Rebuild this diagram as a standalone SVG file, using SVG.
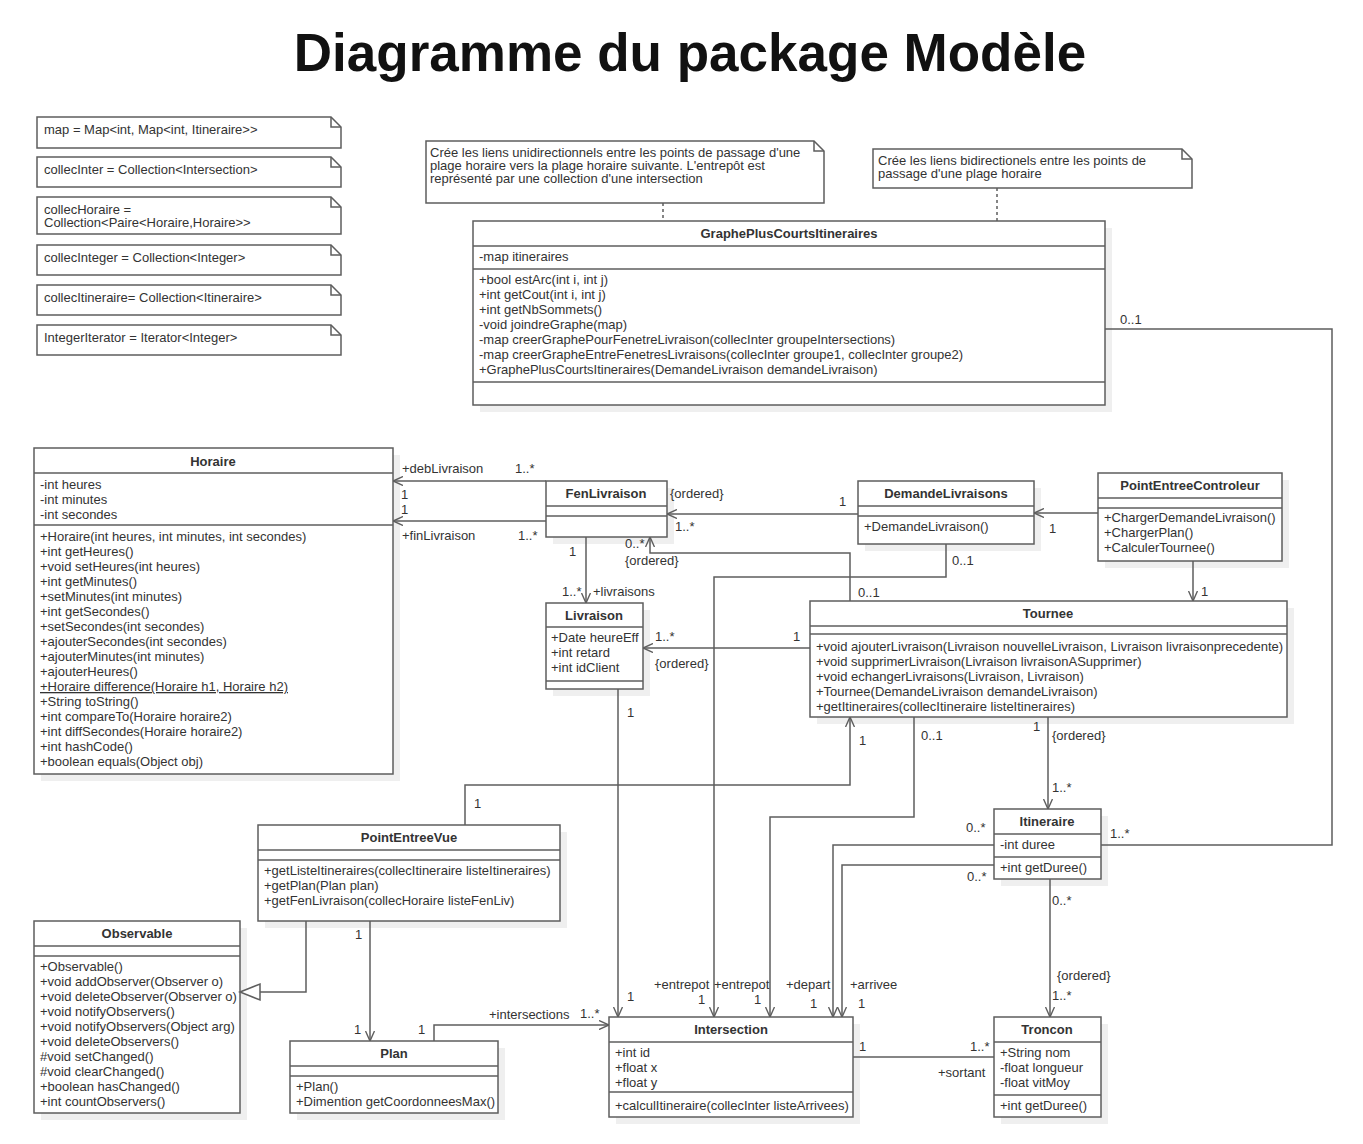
<svg xmlns="http://www.w3.org/2000/svg" width="1363" height="1144" viewBox="0 0 1363 1144">
<style>
.bg{fill:#fff}
.box{fill:#fff;stroke:#5e5e5e;stroke-width:1.5}
.sh{fill:#efefef}
.sep{stroke:#5e5e5e;stroke-width:1.5}
.t{font-family:"Liberation Sans",Arial,sans-serif;font-size:13px;fill:#333}
.b{font-weight:bold;text-anchor:middle}
.ln{fill:none;stroke:#5e5e5e;stroke-width:1.5}
.dot{fill:none;stroke:#5e5e5e;stroke-width:1.5;stroke-dasharray:3,3}
.title{font-family:"Liberation Sans",Arial,sans-serif;font-size:53px;font-weight:bold;fill:#111;text-anchor:middle}
</style>
<defs>
<marker id="arr" viewBox="0 0 10 10" refX="10" refY="5" markerWidth="10" markerHeight="10" markerUnits="userSpaceOnUse" orient="auto">
<path d="M0,0.5 L10,5 L0,9.5" fill="none" stroke="#5e5e5e" stroke-width="1.4"/>
</marker>
</defs>
<rect class="bg" x="0" y="0" width="1363" height="1144"/>
<text class="title" x="690" y="71">Diagramme du package Modèle</text>

<g id="notes-left">
<g id="note-map">
<path class="box" d="M37,117 H331 L341,127 V148 H37 Z"/><path class="ln" d="M331,117 V127 H341"/>
<text class="t" x="44" y="134">map = Map&lt;int, Map&lt;int, Itineraire&gt;&gt;</text>
</g>
<g id="note-collecInter">
<path class="box" d="M37,157 H331 L341,167 V187 H37 Z"/><path class="ln" d="M331,157 V167 H341"/>
<text class="t" x="44" y="174">collecInter = Collection&lt;Intersection&gt;</text>
</g>
<g id="note-collecHoraire">
<path class="box" d="M37,197 H331 L341,207 V234 H37 Z"/><path class="ln" d="M331,197 V207 H341"/>
<text class="t" x="44" y="214">collecHoraire =</text>
<text class="t" x="44" y="227">Collection&lt;Paire&lt;Horaire,Horaire&gt;&gt;</text>
</g>
<g id="note-collecInteger">
<path class="box" d="M37,245 H331 L341,255 V275 H37 Z"/><path class="ln" d="M331,245 V255 H341"/>
<text class="t" x="44" y="262">collecInteger = Collection&lt;Integer&gt;</text>
</g>
<g id="note-collecItineraire">
<path class="box" d="M37,285 H331 L341,295 V315 H37 Z"/><path class="ln" d="M331,285 V295 H341"/>
<text class="t" x="44" y="302">collecItineraire= Collection&lt;Itineraire&gt;</text>
</g>
<g id="note-IntegerIterator">
<path class="box" d="M37,325 H331 L341,335 V355 H37 Z"/><path class="ln" d="M331,325 V335 H341"/>
<text class="t" x="44" y="342">IntegerIterator = Iterator&lt;Integer&gt;</text>
</g>
</g>

<g id="note-uni">
<path class="box" d="M426,141 H814 L824,151 V203 H426 Z"/><path class="ln" d="M814,141 V151 H824"/>
<text class="t" x="430" y="157">Crée les liens unidirectionnels entre les points de passage d'une</text>
<text class="t" x="430" y="170">plage horaire vers la plage horaire suivante. L'entrepôt est</text>
<text class="t" x="430" y="183">représenté par une collection d'une intersection</text>
</g>
<g id="note-bi">
<path class="box" d="M873,149 H1182 L1192,159 V188 H873 Z"/><path class="ln" d="M1182,149 V159 H1192"/>
<text class="t" x="878" y="165">Crée les liens bidirectionels entre les points de</text>
<text class="t" x="878" y="178">passage d'une plage horaire</text>
</g>

<g id="GraphePlusCourtsItineraires">
<rect class="sh" x="480" y="228" width="632" height="184"/>
<rect class="box" x="473" y="221" width="632" height="184"/>
<line class="sep" x1="473" y1="246" x2="1105" y2="246"/>
<line class="sep" x1="473" y1="269" x2="1105" y2="269"/>
<line class="sep" x1="473" y1="382" x2="1105" y2="382"/>
<text class="t b" x="789" y="238">GraphePlusCourtsItineraires</text>
<text class="t" x="479" y="261">-map itineraires</text>
<text class="t" x="479" y="284">+bool estArc(int i, int j)</text>
<text class="t" x="479" y="299">+int getCout(int i, int j)</text>
<text class="t" x="479" y="314">+int getNbSommets()</text>
<text class="t" x="479" y="329">-void joindreGraphe(map)</text>
<text class="t" x="479" y="344">-map creerGraphePourFenetreLivraison(collecInter groupeIntersections)</text>
<text class="t" x="479" y="359">-map creerGrapheEntreFenetresLivraisons(collecInter groupe1, collecInter groupe2)</text>
<text class="t" x="479" y="374">+GraphePlusCourtsItineraires(DemandeLivraison demandeLivraison)</text>
</g>

<g id="Horaire">
<rect class="sh" x="41" y="455" width="359" height="326"/>
<rect class="box" x="34" y="448" width="359" height="326"/>
<line class="sep" x1="34" y1="473" x2="393" y2="473"/>
<line class="sep" x1="34" y1="525" x2="393" y2="525"/>
<text class="t b" x="213" y="466">Horaire</text>
<text class="t" x="40" y="489">-int heures</text>
<text class="t" x="40" y="504">-int minutes</text>
<text class="t" x="40" y="519">-int secondes</text>
<text class="t" x="40" y="541">+Horaire(int heures, int minutes, int secondes)</text>
<text class="t" x="40" y="556">+int getHeures()</text>
<text class="t" x="40" y="571">+void setHeures(int heures)</text>
<text class="t" x="40" y="586">+int getMinutes()</text>
<text class="t" x="40" y="601">+setMinutes(int minutes)</text>
<text class="t" x="40" y="616">+int getSecondes()</text>
<text class="t" x="40" y="631">+setSecondes(int secondes)</text>
<text class="t" x="40" y="646">+ajouterSecondes(int secondes)</text>
<text class="t" x="40" y="661">+ajouterMinutes(int minutes)</text>
<text class="t" x="40" y="676">+ajouterHeures()</text>
<text class="t" x="40" y="691" text-decoration="underline">+Horaire difference(Horaire h1, Horaire h2)</text>
<text class="t" x="40" y="706">+String toString()</text>
<text class="t" x="40" y="721">+int compareTo(Horaire horaire2)</text>
<text class="t" x="40" y="736">+int diffSecondes(Horaire horaire2)</text>
<text class="t" x="40" y="751">+int hashCode()</text>
<text class="t" x="40" y="766">+boolean equals(Object obj)</text>
</g>

<g id="FenLivraison">
<rect class="sh" x="553" y="488" width="121" height="56"/>
<rect class="box" x="546" y="481" width="121" height="56"/>
<line class="sep" x1="546" y1="506" x2="667" y2="506"/>
<line class="sep" x1="546" y1="516" x2="667" y2="516"/>
<text class="t b" x="606" y="498">FenLivraison</text>
</g>

<g id="DemandeLivraisons">
<rect class="sh" x="865" y="488" width="176" height="63"/>
<rect class="box" x="858" y="481" width="176" height="63"/>
<line class="sep" x1="858" y1="506" x2="1034" y2="506"/>
<line class="sep" x1="858" y1="516" x2="1034" y2="516"/>
<text class="t b" x="946" y="498">DemandeLivraisons</text>
<text class="t" x="864" y="531">+DemandeLivraison()</text>
</g>

<g id="PointEntreeControleur">
<rect class="sh" x="1105" y="480" width="184" height="88"/>
<rect class="box" x="1098" y="473" width="184" height="88"/>
<line class="sep" x1="1098" y1="498" x2="1282" y2="498"/>
<line class="sep" x1="1098" y1="508" x2="1282" y2="508"/>
<text class="t b" x="1190" y="490">PointEntreeControleur</text>
<text class="t" x="1104" y="522">+ChargerDemandeLivraison()</text>
<text class="t" x="1104" y="537">+ChargerPlan()</text>
<text class="t" x="1104" y="552">+CalculerTournee()</text>
</g>

<g id="Livraison">
<rect class="sh" x="553" y="610" width="97" height="86"/>
<rect class="box" x="546" y="603" width="97" height="86"/>
<line class="sep" x1="546" y1="627" x2="643" y2="627"/>
<line class="sep" x1="546" y1="681" x2="643" y2="681"/>
<text class="t b" x="594" y="620">Livraison</text>
<text class="t" x="551" y="642">+Date heureEff</text>
<text class="t" x="551" y="657">+int retard</text>
<text class="t" x="551" y="672">+int idClient</text>
</g>

<g id="Tournee">
<rect class="sh" x="817" y="608" width="477" height="116"/>
<rect class="box" x="810" y="601" width="477" height="116"/>
<line class="sep" x1="810" y1="626" x2="1287" y2="626"/>
<line class="sep" x1="810" y1="634" x2="1287" y2="634"/>
<text class="t b" x="1048" y="618">Tournee</text>
<text class="t" x="816" y="651">+void ajouterLivraison(Livraison nouvelleLivraison, Livraison livraisonprecedente)</text>
<text class="t" x="816" y="666">+void supprimerLivraison(Livraison livraisonASupprimer)</text>
<text class="t" x="816" y="681">+void echangerLivraisons(Livraison, Livraison)</text>
<text class="t" x="816" y="696">+Tournee(DemandeLivraison demandeLivraison)</text>
<text class="t" x="816" y="711">+getItineraires(collecItineraire listeItineraires)</text>
</g>

<g id="Itineraire">
<rect class="sh" x="1001" y="816" width="107" height="70"/>
<rect class="box" x="994" y="809" width="107" height="70"/>
<line class="sep" x1="994" y1="834" x2="1101" y2="834"/>
<line class="sep" x1="994" y1="857" x2="1101" y2="857"/>
<text class="t b" x="1047" y="826">Itineraire</text>
<text class="t" x="1000" y="849">-int duree</text>
<text class="t" x="1000" y="872">+int getDuree()</text>
</g>

<g id="PointEntreeVue">
<rect class="sh" x="265" y="832" width="302" height="96"/>
<rect class="box" x="258" y="825" width="302" height="96"/>
<line class="sep" x1="258" y1="850" x2="560" y2="850"/>
<line class="sep" x1="258" y1="860" x2="560" y2="860"/>
<text class="t b" x="409" y="842">PointEntreeVue</text>
<text class="t" x="264" y="875">+getListeItineraires(collecItineraire listeItineraires)</text>
<text class="t" x="264" y="890">+getPlan(Plan plan)</text>
<text class="t" x="264" y="905">+getFenLivraison(collecHoraire listeFenLiv)</text>
</g>

<g id="Observable">
<rect class="sh" x="41" y="928" width="206" height="192"/>
<rect class="box" x="34" y="921" width="206" height="192"/>
<line class="sep" x1="34" y1="946" x2="240" y2="946"/>
<line class="sep" x1="34" y1="956" x2="240" y2="956"/>
<text class="t b" x="137" y="938">Observable</text>
<text class="t" x="40" y="971">+Observable()</text>
<text class="t" x="40" y="986">+void addObserver(Observer o)</text>
<text class="t" x="40" y="1001">+void deleteObserver(Observer o)</text>
<text class="t" x="40" y="1016">+void notifyObservers()</text>
<text class="t" x="40" y="1031">+void notifyObservers(Object arg)</text>
<text class="t" x="40" y="1046">+void deleteObservers()</text>
<text class="t" x="40" y="1061">#void setChanged()</text>
<text class="t" x="40" y="1076">#void clearChanged()</text>
<text class="t" x="40" y="1091">+boolean hasChanged()</text>
<text class="t" x="40" y="1106">+int countObservers()</text>
</g>

<g id="Plan">
<rect class="sh" x="297" y="1048" width="208" height="72"/>
<rect class="box" x="290" y="1041" width="208" height="72"/>
<line class="sep" x1="290" y1="1066" x2="498" y2="1066"/>
<line class="sep" x1="290" y1="1076" x2="498" y2="1076"/>
<text class="t b" x="394" y="1058">Plan</text>
<text class="t" x="296" y="1091">+Plan()</text>
<text class="t" x="296" y="1106">+Dimention getCoordonneesMax()</text>
</g>

<g id="Intersection">
<rect class="sh" x="616" y="1024" width="244" height="100"/>
<rect class="box" x="609" y="1017" width="244" height="100"/>
<line class="sep" x1="609" y1="1042" x2="853" y2="1042"/>
<line class="sep" x1="609" y1="1092" x2="853" y2="1092"/>
<text class="t b" x="731" y="1034">Intersection</text>
<text class="t" x="615" y="1057">+int id</text>
<text class="t" x="615" y="1072">+float x</text>
<text class="t" x="615" y="1087">+float y</text>
<text class="t" x="615" y="1110">+calculItineraire(collecInter listeArrivees)</text>
</g>

<g id="Troncon">
<rect class="sh" x="1001" y="1024" width="107" height="100"/>
<rect class="box" x="994" y="1017" width="107" height="100"/>
<line class="sep" x1="994" y1="1042" x2="1101" y2="1042"/>
<line class="sep" x1="994" y1="1095" x2="1101" y2="1095"/>
<text class="t b" x="1047" y="1034">Troncon</text>
<text class="t" x="1000" y="1057">+String nom</text>
<text class="t" x="1000" y="1072">-float longueur</text>
<text class="t" x="1000" y="1087">-float vitMoy</text>
<text class="t" x="1000" y="1110">+int getDuree()</text>
</g>

<g id="connectors">
<path class="dot" d="M663,203 V221"/>
<path class="dot" d="M997,188 V221"/>
<path class="ln" d="M546,481 H393" marker-end="url(#arr)"/>
<path class="ln" d="M546,521 H393" marker-end="url(#arr)"/>
<path class="ln" d="M858,514 H667" marker-end="url(#arr)"/>
<path class="ln" d="M850,601 V553 H650 V537" marker-end="url(#arr)"/>
<path class="ln" d="M946,544 V577 H714 V1017" marker-end="url(#arr)"/>
<path class="ln" d="M586,537 V603" marker-end="url(#arr)"/>
<path class="ln" d="M618,689 V1017" marker-end="url(#arr)"/>
<path class="ln" d="M810,648 H643" marker-end="url(#arr)"/>
<path class="ln" d="M914,717 V817 H770 V1017" marker-end="url(#arr)"/>
<path class="ln" d="M465,825 V785 H850 V717" marker-end="url(#arr)"/>
<path class="ln" d="M1048,717 V809" marker-end="url(#arr)"/>
<path class="ln" d="M994,845 H833 V1017" marker-end="url(#arr)"/>
<path class="ln" d="M994,865 H842 V1017" marker-end="url(#arr)"/>
<path class="ln" d="M1050,879 V1017" marker-end="url(#arr)"/>
<path class="ln" d="M1105,329 H1332 V845 H1101"/>
<path class="ln" d="M853,1057 H994"/>
<path class="ln" d="M434,1041 V1025 H609" marker-end="url(#arr)"/>
<path class="ln" d="M370,921 V1041" marker-end="url(#arr)"/>
<path class="ln" d="M306,921 V992 H260"/>
<polygon class="box" points="240,992 260,984 260,1000"/>
<path class="ln" d="M1098,513 H1034" marker-end="url(#arr)"/>
<path class="ln" d="M1193,561 V601" marker-end="url(#arr)"/>

<text class="t" x="402" y="473">+debLivraison</text>
<text class="t" x="515" y="473">1..*</text>
<text class="t" x="401" y="499">1</text>
<text class="t" x="401" y="514">1</text>
<text class="t" x="402" y="540">+finLivraison</text>
<text class="t" x="518" y="540">1..*</text>
<text class="t" x="670" y="498">{ordered}</text>
<text class="t" x="675" y="531">1..*</text>
<text class="t" x="839" y="506">1</text>
<text class="t" x="1049" y="533">1</text>
<text class="t" x="1201" y="596">1</text>
<text class="t" x="625" y="548">0..*</text>
<text class="t" x="625" y="565">{ordered}</text>
<text class="t" x="952" y="565">0..1</text>
<text class="t" x="569" y="556">1</text>
<text class="t" x="562" y="596">1..*</text>
<text class="t" x="593" y="596">+livraisons</text>
<text class="t" x="858" y="597">0..1</text>
<text class="t" x="655" y="641">1..*</text>
<text class="t" x="655" y="668">{ordered}</text>
<text class="t" x="793" y="641">1</text>
<text class="t" x="627" y="717">1</text>
<text class="t" x="921" y="740">0..1</text>
<text class="t" x="1033" y="731">1</text>
<text class="t" x="1052" y="740">{ordered}</text>
<text class="t" x="1052" y="792">1..*</text>
<text class="t" x="859" y="745">1</text>
<text class="t" x="474" y="808">1</text>
<text class="t" x="966" y="832">0..*</text>
<text class="t" x="967" y="881">0..*</text>
<text class="t" x="1110" y="838">1..*</text>
<text class="t" x="1120" y="324">0..1</text>
<text class="t" x="1052" y="905">0..*</text>
<text class="t" x="1057" y="980">{ordered}</text>
<text class="t" x="1052" y="1000">1..*</text>
<text class="t" x="654" y="989">+entrepot</text>
<text class="t" x="698" y="1004">1</text>
<text class="t" x="714" y="989">+entrepot</text>
<text class="t" x="754" y="1004">1</text>
<text class="t" x="786" y="989">+depart</text>
<text class="t" x="810" y="1008">1</text>
<text class="t" x="850" y="989">+arrivee</text>
<text class="t" x="858" y="1008">1</text>
<text class="t" x="627" y="1001">1</text>
<text class="t" x="859" y="1051">1</text>
<text class="t" x="970" y="1051">1..*</text>
<text class="t" x="938" y="1077">+sortant</text>
<text class="t" x="418" y="1034">1</text>
<text class="t" x="489" y="1019">+intersections</text>
<text class="t" x="580" y="1018">1..*</text>
<text class="t" x="355" y="939">1</text>
<text class="t" x="354" y="1034">1</text>
</g>
</svg>
